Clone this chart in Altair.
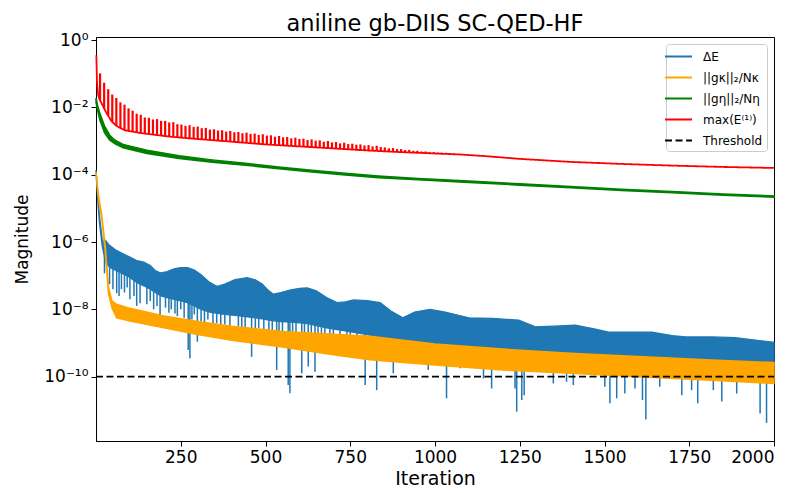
import json
import altair as alt
import pandas as pd

# ---------------- text / ticks ----------------
TITLE = "aniline gb-DIIS SC-QED-HF"
X_TITLE = "Iteration"
Y_TITLE = "Magnitude"
series_names = ["ΔE", "||gκ||₂/Nκ", "||gη||₂/Nη", "max(E⁽¹⁾)", "Threshold"]
series_colors = ["#1f77b4", "#ffa500", "#008000", "#ff0000", "#000000"]
series_dashes = [[1, 0], [1, 0], [1, 0], [1, 0], [7, 3.5]]
x_ticks = [250, 500, 750, 1000, 1250, 1500, 1750, 2000]
y_ticks = [1e0, 1e-2, 1e-4, 1e-6, 1e-8, 1e-10]
y_tick_labels = ["10⁰", "10⁻²", "10⁻⁴", "10⁻⁶", "10⁻⁸", "10⁻¹⁰"]
threshold_value = 1e-10
threshold_iter = [0, 2000]

# ---------------- data (log10 of magnitude) ----------------
# ΔE : dense oscillating band (upper / lower edge)
blue_iter = [0, 4, 10, 18, 22, 28, 40, 60, 80, 100, 120, 141, 160, 175, 191, 210, 230, 250, 270, 290,
             310, 335, 358, 380, 410, 446, 470, 490, 510, 523, 545, 575, 600, 623, 650, 680, 711, 735, 760,
             800, 838, 870, 905, 940, 985, 1030, 1100, 1170, 1247, 1296, 1350, 1414, 1470, 1512, 1580, 1640,
             1700, 1740, 1820, 1886, 1950, 2000]
blue_hi = [-3.86, -4.4, -5.2, -5.9, -6.0, -5.95, -6.1, -6.25, -6.35, -6.45, -6.55, -6.6, -6.7, -6.85, -6.92,
           -6.88, -6.8, -6.76, -6.76, -6.83, -6.97, -7.2, -7.32, -7.25, -7.12, -7.06, -7.12, -7.25, -7.45,
           -7.55, -7.5, -7.42, -7.38, -7.36, -7.45, -7.65, -7.8, -7.78, -7.72, -7.74, -7.8, -8.05, -8.25,
           -8.08, -8.0, -8.08, -8.25, -8.27, -8.32, -8.52, -8.5, -8.47, -8.58, -8.68, -8.68, -8.68, -8.78,
           -8.82, -8.82, -8.84, -8.92, -8.98]
blue_lo = [-3.9, -4.6, -5.4, -6.1, -6.3, -6.6, -6.75, -6.85, -6.95, -7.05, -7.2, -7.3, -7.4, -7.5, -7.6,
           -7.65, -7.7, -7.75, -7.8, -7.9, -8.0, -8.08, -8.12, -8.15, -8.18, -8.22, -8.25, -8.28, -8.32,
           -8.34, -8.36, -8.38, -8.4, -8.42, -8.48, -8.55, -8.6, -8.64, -8.68, -8.75, -8.85, -8.95, -9.05,
           -9.08, -9.1, -9.13, -9.2, -9.25, -9.3, -9.33, -9.36, -9.4, -9.44, -9.47, -9.5, -9.52, -9.54,
           -9.56, -9.59, -9.62, -9.64, -9.66]
# ΔE : downward spikes (iteration, top, bottom)
blue_spike_iter = [25, 40, 50, 61, 68, 75, 84, 92, 100, 112, 120, 130, 150, 160, 170, 180, 189, 205, 215,
                   222, 233, 240, 250, 260, 272, 277, 283, 290, 299, 310, 320, 330, 345, 356, 368, 380, 395,
                   420, 430, 440, 459, 470, 480, 495, 510, 520, 533, 540, 550, 567, 572, 580, 590, 607, 615,
                   626, 635, 646, 655, 665, 675, 690, 700, 720, 740, 750, 770, 794, 828, 877, 980, 1034, 1074,
                   1143, 1167, 1236, 1241, 1256, 1263, 1349, 1388, 1408, 1501, 1516, 1536, 1560, 1590, 1612,
                   1622, 1663, 1728, 1757, 1775, 1821, 1846, 1890, 1959, 1978, 1993]
blue_spike_top = [-6.4, -6.75, -6.8, -6.85, -6.9, -6.92, -6.95, -7.0, -7.05, -7.1, -7.2, -7.25, -7.35, -7.4,
                  -7.45, -7.5, -7.6, -7.62, -7.65, -7.68, -7.7, -7.72, -7.75, -7.78, -7.8, -7.82, -7.85,
                  -7.88, -7.92, -8.0, -8.02, -8.05, -8.1, -8.12, -8.13, -8.15, -8.16, -8.2, -8.2, -8.21,
                  -8.23, -8.25, -8.26, -8.28, -8.32, -8.33, -8.35, -8.35, -8.36, -8.37, -8.37, -8.38, -8.39,
                  -8.4, -8.41, -8.42, -8.44, -8.46, -8.48, -8.5, -8.53, -8.57, -8.58, -8.62, -8.65, -8.66,
                  -8.7, -8.74, -8.84, -9.0, -9.1, -9.14, -9.18, -9.24, -9.25, -9.3, -9.3, -9.31, -9.32,
                  -9.36, -9.39, -9.4, -9.47, -9.47, -9.48, -9.49, -9.5, -9.51, -9.51, -9.53, -9.55, -9.56,
                  -9.57, -9.59, -9.6, -9.62, -9.64, -9.65, -9.66]
blue_spike_bot = [-6.93, -7.25, -7.4, -7.52, -7.6, -7.4, -7.5, -7.35, -7.7, -7.6, -7.9, -7.82, -7.85,
                  -7.75, -8.0, -7.9, -8.22, -7.95, -8.1, -8.0, -8.12, -8.2, -8.0, -8.25, -9.21, -9.45, -8.3,
                  -8.15, -8.96, -8.35, -8.4, -8.3, -8.45, -8.41, -8.45, -8.45, -8.5, -8.5, -8.55, -8.55,
                  -9.41, -8.6, -8.55, -8.6, -8.65, -8.65, -9.8, -8.65, -8.7, -10.25, -10.49, -8.7, -8.75,
                  -9.9, -8.7, -9.7, -8.75, -9.85, -8.75, -8.8, -8.8, -8.85, -8.8, -8.85, -8.95, -8.85, -8.9,
                  -10.25, -10.4, -9.9, -9.8, -10.64, -9.75, -10.05, -10.35, -10.35, -11.04, -10.69, -10.55,
                  -10.2, -10.15, -10.25, -10.3, -10.79, -10.64, -10.5, -10.35, -10.69, -11.27, -10.3,
                  -10.55, -10.4, -10.79, -10.4, -10.74, -10.5, -11.09, -11.37, -10.2]

# ||g_kappa||_2 / N_kappa : band
orange_iter = [0, 7, 17, 27, 37, 47, 61, 100, 200, 300, 400, 550, 700, 808, 1000, 1200, 1400, 1600, 1800, 2000]
orange_hi = [-3.92, -4.6, -5.2, -6.1, -7.35, -7.75, -7.85, -7.97, -8.2, -8.36, -8.5, -8.66, -8.74, -8.8,
             -9.03, -9.18, -9.3, -9.4, -9.5, -9.58]
orange_lo = [-3.98, -4.7, -5.3, -6.25, -7.55, -7.95, -8.25, -8.35, -8.55, -8.75, -8.92, -9.12, -9.35, -9.5,
             -9.65, -9.8, -9.9, -10.0, -10.1, -10.2]

# ||g_eta||_2 / N_eta : narrow band
green_iter = [0, 5, 12, 25, 40, 55, 80, 150, 245, 343, 441, 539, 637, 735, 833, 950, 1100, 1250, 1400, 1550,
              1700, 1850, 2000]
green_hi = [-1.72, -1.95, -2.2, -2.55, -2.82, -2.97, -3.1, -3.27, -3.44, -3.56, -3.66, -3.77, -3.87, -3.96,
            -4.04, -4.11, -4.19, -4.27, -4.35, -4.43, -4.5, -4.57, -4.63]
green_lo = [-1.85, -2.1, -2.4, -2.75, -2.97, -3.08, -3.2, -3.37, -3.52, -3.63, -3.72, -3.82, -3.92, -4.01,
            -4.09, -4.15, -4.23, -4.31, -4.39, -4.47, -4.54, -4.61, -4.67]

# max(E^(1)) : baseline + upward spikes
red_iter = [1, 3, 6, 10, 20, 30, 45, 60, 85, 130, 218, 300, 400, 500, 600, 700, 800, 900, 1000, 1075, 1150,
            1250, 1400, 1550, 1700, 1850, 2000]
red_val = [-0.45, -1.3, -1.6, -1.75, -1.95, -2.15, -2.4, -2.55, -2.68, -2.76, -2.87, -2.94, -3.02, -3.1,
           -3.16, -3.22, -3.28, -3.33, -3.37, -3.40, -3.45, -3.53, -3.62, -3.68, -3.73, -3.77, -3.80]
red_spike_iter = [12, 24, 36, 48, 60, 72, 84, 96, 108, 120, 132, 144, 156, 168, 180, 192, 204, 216, 228, 240,
                  252, 264, 276, 288, 300, 312, 324, 336, 348, 360, 372, 384, 396, 408, 420, 432, 444, 456,
                  468, 480, 492, 504, 516, 528, 540, 552, 564, 576, 588, 600, 612, 624, 636, 648, 660, 672,
                  684, 696, 708, 720, 732, 744, 756, 768, 780, 792, 804, 816, 828, 840, 852, 864, 876, 888,
                  900, 912, 924, 936, 948, 960, 972, 984, 996, 1008, 1020, 1032, 1044, 1056, 1068]
red_spike_top = [-0.99, -1.27, -1.46, -1.62, -1.72, -1.85, -1.92, -2.03, -2.10, -2.19, -2.22, -2.30, -2.31,
                 -2.36, -2.35, -2.40, -2.40, -2.45, -2.44, -2.50, -2.51, -2.55, -2.53, -2.58, -2.57, -2.62,
                 -2.61, -2.66, -2.65, -2.69, -2.68, -2.72, -2.70, -2.74, -2.73, -2.77, -2.75, -2.79, -2.78,
                 -2.82, -2.80, -2.84, -2.83, -2.87, -2.85, -2.89, -2.88, -2.92, -2.90, -2.94, -2.93, -2.97,
                 -2.95, -2.99, -2.98, -3.02, -3.00, -3.04, -3.03, -3.07, -3.05, -3.09, -3.08, -3.11, -3.10,
                 -3.13, -3.12, -3.16, -3.14, -3.18, -3.19, -3.22, -3.21, -3.24, -3.24, -3.27, -3.26, -3.29,
                 -3.29, -3.31, -3.31, -3.33, -3.33, -3.34, -3.35, -3.35, -3.36, -3.37, -3.38]
red_spike_base = [-1.79, -2.03, -2.25, -2.43, -2.55, -2.62, -2.68, -2.70, -2.72, -2.74, -2.76, -2.78, -2.80,
                  -2.81, -2.82, -2.84, -2.85, -2.87, -2.88, -2.89, -2.90, -2.91, -2.92, -2.93, -2.94, -2.95,
                  -2.96, -2.97, -2.98, -2.99, -3.00, -3.01, -3.02, -3.03, -3.04, -3.04, -3.05, -3.06, -3.07,
                  -3.08, -3.09, -3.10, -3.11, -3.11, -3.12, -3.13, -3.14, -3.14, -3.15, -3.16, -3.17, -3.17,
                  -3.18, -3.19, -3.19, -3.20, -3.21, -3.22, -3.22, -3.23, -3.24, -3.24, -3.25, -3.26, -3.27,
                  -3.27, -3.28, -3.29, -3.29, -3.30, -3.31, -3.31, -3.32, -3.32, -3.33, -3.33, -3.34, -3.34,
                  -3.35, -3.35, -3.36, -3.36, -3.37, -3.37, -3.38, -3.38, -3.39, -3.39, -3.40]


def mag(exps):
    return [10.0 ** e for e in exps]


blue_df = pd.DataFrame({"it": blue_iter, "hi": mag(blue_hi), "lo": mag(blue_lo)})
blue_spk_df = pd.DataFrame({"it": blue_spike_iter, "top": mag(blue_spike_top), "bot": mag(blue_spike_bot)})
orange_df = pd.DataFrame({"it": orange_iter, "hi": mag(orange_hi), "lo": mag(orange_lo)})
green_df = pd.DataFrame({"it": green_iter, "hi": mag(green_hi), "lo": mag(green_lo)})
red_spk_df = pd.DataFrame({"it": red_spike_iter, "top": mag(red_spike_top), "bot": mag(red_spike_base)})
line_df = pd.concat([
    pd.DataFrame({"it": red_iter, "v": mag(red_val), "s": series_names[3]}),
    pd.DataFrame({"it": threshold_iter, "v": [threshold_value] * len(threshold_iter), "s": series_names[4]}),
], ignore_index=True)

# ---------------- encodings ----------------
FONT = "DejaVu Sans"
xs = alt.Scale(domain=[0, 2000], nice=False, zero=False)
ys = alt.Scale(type="log", domain=[1.23e-12, 1.23], nice=False)
x_axis = alt.Axis(values=x_ticks, title=X_TITLE, titleFontSize=19, titlePadding=4, format="d")
y_label_expr = json.dumps(y_tick_labels, ensure_ascii=False) + "[round(-log(datum.value)/LN10/2)]"
y_axis = alt.Axis(values=y_ticks, title=Y_TITLE, titleFontSize=17, titlePadding=12, labelExpr=y_label_expr)


def X():
    return alt.X("it:Q", scale=xs, axis=x_axis)


def Y(f):
    return alt.Y(f"{f}:Q", scale=ys, axis=y_axis)


C = series_colors

blue_area = alt.Chart(blue_df).mark_area(color=C[0], stroke=C[0], strokeWidth=1.3, opacity=1).encode(
    x=X(), y=Y("hi"), y2="lo")
blue_spikes = alt.Chart(blue_spk_df).mark_rule(color=C[0], strokeWidth=1.5).encode(
    x=X(), y=Y("top"), y2="bot")
orange_area = alt.Chart(orange_df).mark_area(color=C[1], stroke=C[1], strokeWidth=1.5, opacity=1).encode(
    x=X(), y=Y("hi"), y2="lo")
green_area = alt.Chart(green_df).mark_area(color=C[2], stroke=C[2], strokeWidth=1.5, opacity=1).encode(
    x=X(), y=Y("hi"), y2="lo")
red_spikes = alt.Chart(red_spk_df).mark_rule(color=C[3], strokeWidth=2.2).encode(
    x=X(), y=Y("top"), y2="bot")
lines = alt.Chart(line_df).mark_line(strokeWidth=1.8).encode(
    x=X(), y=Y("v"),
    color=alt.Color("s:N", scale=alt.Scale(domain=series_names, range=series_colors), title=None),
    strokeDash=alt.StrokeDash("s:N", scale=alt.Scale(domain=series_names, range=series_dashes), title=None),
)

chart = alt.layer(blue_area, blue_spikes, orange_area, green_area, red_spikes, lines).properties(
    width=678,
    height=404,
    title=alt.Title(TITLE, font=FONT, fontSize=22.5, fontWeight="normal", color="black", anchor="middle", offset=-4),
    autosize=alt.AutoSizeParams(type="none"),
    padding={"left": 96, "top": 37, "right": 27, "bottom": 52},
).configure_view(
    stroke="black", strokeWidth=1
).configure_axis(
    labelFont=FONT, labelFontSize=17, labelColor="black", titleFont=FONT, titleFontWeight="normal",
    titleColor="black", tickColor="black", domainColor="black", tickSize=5, labelPadding=3, grid=False,
).configure_legend(
    orient="top-right", offset=7, padding=4, fillColor="white", strokeColor="#cccccc", cornerRadius=3,
    labelFont=FONT, labelFontSize=12, labelColor="black", symbolType="M-1.8,0H1.8", symbolSize=225,
    symbolStrokeWidth=1.8, rowPadding=6, labelOffset=16, labelLimit=200,
)

chart.save("out.html", embed_options={"renderer": "svg", "actions": False})
